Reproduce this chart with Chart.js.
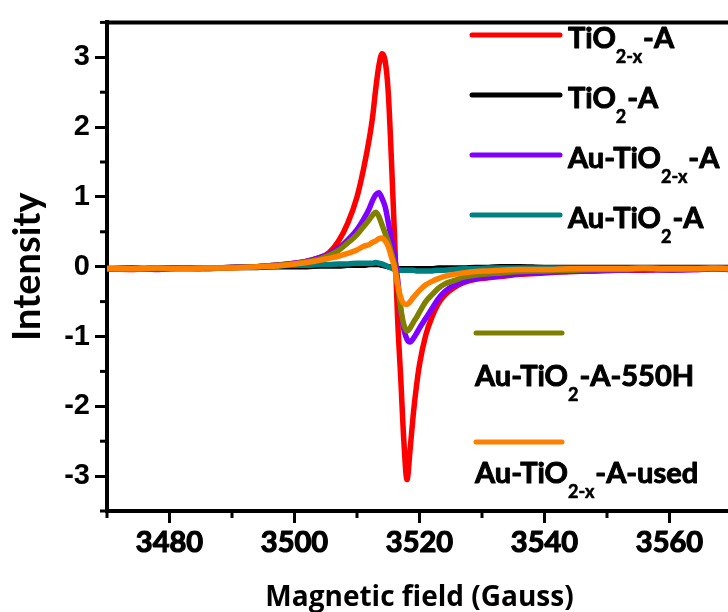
<!DOCTYPE html>
<html>
<head>
<meta charset="utf-8">
<script src="https://cdn.jsdelivr.net/npm/chart.js@4.4.1/dist/chart.umd.min.js"></script>
<style>
html,body{margin:0;padding:0;background:#fff;overflow:hidden;width:728px;height:612px;}
#wrap{position:relative;width:736px;height:612px;}
canvas{display:block;}
</style>
</head>
<body>
<div id="wrap"><canvas id="c" width="736" height="612"></canvas></div>
<script>
// ---- data ----
const field = [3470,3474,3478,3482,3486,3490,3494,3497,3500,3502,3504,3505.5,3507,3508.5,3510,3511,3512,3512.5,3513,3513.5,3514,3514.5,3515,3515.5,3516,3516.5,3517,3517.5,3518,3518.5,3519,3519.5,3520,3521,3522,3523,3524,3525.5,3527,3529,3531,3533,3536,3540,3544,3548,3552,3556,3560,3564,3567,3570];

const tio2xA = [-0.03,-0.04,-0.02,-0.03,-0.02,-0.01,0.00,0.02,0.05,0.08,0.13,0.20,0.36,0.62,1.00,1.38,1.85,2.15,2.55,2.88,3.05,2.95,2.50,1.55,0.45,-0.75,-1.60,-2.50,-3.05,-2.62,-2.12,-1.72,-1.40,-0.98,-0.72,-0.53,-0.41,-0.30,-0.23,-0.18,-0.16,-0.14,-0.11,-0.09,-0.07,-0.06,-0.05,-0.05,-0.04,-0.04,-0.03,-0.04];
const tio2A = [-0.03,-0.03,-0.02,-0.02,-0.02,-0.01,-0.01,0.00,0.00,0.00,0.01,0.01,0.01,0.02,0.02,0.02,0.03,0.03,0.03,0.03,0.02,0.01,0.00,-0.01,-0.02,-0.03,-0.03,-0.03,-0.03,-0.03,-0.03,-0.03,-0.03,-0.03,-0.03,-0.02,-0.02,-0.02,-0.02,-0.01,-0.01,0.00,0.00,-0.01,-0.01,-0.01,-0.01,-0.01,-0.01,-0.01,-0.01,-0.01];
const auTio2xA = [-0.03,-0.02,-0.04,-0.02,-0.03,-0.01,0.00,0.02,0.05,0.08,0.13,0.18,0.26,0.38,0.53,0.67,0.84,0.95,1.03,1.06,0.98,0.86,0.64,0.40,0.15,-0.18,-0.62,-0.90,-1.04,-1.08,-1.03,-0.96,-0.88,-0.74,-0.60,-0.46,-0.36,-0.27,-0.22,-0.17,-0.15,-0.13,-0.10,-0.08,-0.07,-0.06,-0.05,-0.04,-0.05,-0.04,-0.03,-0.04];
const auTio2A = [-0.03,-0.02,-0.03,-0.02,-0.02,-0.01,0.00,0.01,0.02,0.02,0.03,0.03,0.04,0.04,0.05,0.05,0.05,0.05,0.06,0.05,0.04,0.02,0.00,-0.02,-0.04,-0.05,-0.05,-0.05,-0.05,-0.05,-0.05,-0.06,-0.06,-0.06,-0.06,-0.05,-0.05,-0.04,-0.03,-0.03,-0.02,-0.02,-0.02,-0.02,-0.02,-0.02,-0.02,-0.02,-0.02,-0.02,-0.02,-0.02];
const auTio2A550H = [-0.02,-0.03,-0.03,-0.02,-0.02,-0.01,0.00,0.02,0.04,0.07,0.11,0.16,0.23,0.34,0.46,0.57,0.68,0.74,0.78,0.72,0.60,0.48,0.36,0.20,0.03,-0.25,-0.60,-0.83,-0.92,-0.88,-0.80,-0.73,-0.65,-0.50,-0.40,-0.31,-0.25,-0.20,-0.15,-0.12,-0.10,-0.09,-0.07,-0.06,-0.05,-0.04,-0.04,-0.03,-0.04,-0.03,-0.03,-0.03];
const auTio2xAUsed = [-0.03,-0.03,-0.02,-0.03,-0.02,-0.02,0.00,0.01,0.04,0.06,0.09,0.12,0.15,0.19,0.24,0.29,0.32,0.35,0.37,0.40,0.41,0.37,0.29,0.14,-0.01,-0.26,-0.44,-0.53,-0.54,-0.50,-0.44,-0.39,-0.34,-0.26,-0.21,-0.17,-0.14,-0.11,-0.09,-0.07,-0.06,-0.05,-0.04,-0.04,-0.03,-0.03,-0.03,-0.02,-0.03,-0.03,-0.02,-0.03];

const seriesNames = [
  ['TiO', '2-x', '-A'],
  ['TiO', '2', '-A'],
  ['Au-TiO', '2-x', '-A'],
  ['Au-TiO', '2', '-A'],
  ['Au-TiO', '2', '-A-550H'],
  ['Au-TiO', '2-x', '-A-used']
];
const xTickLabels = [3480, 3500, 3520, 3540, 3560];
const yTickLabels = [-3, -2, -1, 0, 1, 2, 3];

// ---- chart ----
const pts = vals => field.map((x, i) => ({x: x, y: vals[i]}));
const mk = (vals, color, name, order) => ({
  label: name.join(''), data: pts(vals), borderColor: color, backgroundColor: color,
  borderWidth: 5.5, pointRadius: 0, fill: false, cubicInterpolationMode: 'monotone', order: order
});

const majorX = v => xTickLabels.includes(v);
const majorY = v => yTickLabels.includes(Math.round(v * 1000) / 1000);

const decor = {
  id: 'decor',
  afterDraw(chart) {
    const {ctx, chartArea: a, scales: {x, y}} = chart;
    ctx.save();
    ctx.strokeStyle = '#000';
    ctx.lineCap = 'butt';
    // minor ticks
    ctx.lineWidth = 3;
    x.ticks.forEach(t => {
      if (!majorX(t.value)) {
        const px = x.getPixelForValue(t.value);
        ctx.beginPath(); ctx.moveTo(px, a.bottom); ctx.lineTo(px, a.bottom + 7); ctx.stroke();
      }
    });
    y.ticks.forEach(t => {
      if (!majorY(t.value)) {
        const py = y.getPixelForValue(t.value);
        ctx.beginPath(); ctx.moveTo(a.left, py); ctx.lineTo(a.left - 7, py); ctx.stroke();
      }
    });
    // top frame line
    ctx.lineWidth = 4;
    ctx.beginPath(); ctx.moveTo(a.left - 2, a.top); ctx.lineTo(a.right + 6, a.top); ctx.stroke();

    // legend
    const colors = ['#ff0000', '#000000', '#7f00ff', '#008080', '#808000', '#ff8000'];
    const rows = [
      {ly: 35, lx0: 472, lx1: 560, tx: 568, tb: 48},
      {ly: 95, lx0: 472, lx1: 560, tx: 568, tb: 108},
      {ly: 155, lx0: 472, lx1: 560, tx: 568, tb: 168},
      {ly: 215, lx0: 472, lx1: 560, tx: 568, tb: 228},
      {ly: 333, lx0: 476, lx1: 562, tx: 475, tb: 386},
      {ly: 442, lx0: 476, lx1: 562, tx: 475, tb: 483}
    ];
    ctx.lineCap = 'round';
    ctx.textBaseline = 'alphabetic';
    ctx.textAlign = 'left';
    ctx.fillStyle = '#000';
    rows.forEach((r, i) => {
      ctx.strokeStyle = colors[i];
      ctx.lineWidth = 5;
      ctx.beginPath(); ctx.moveTo(r.lx0, r.ly); ctx.lineTo(r.lx1, r.ly); ctx.stroke();
      let cx = r.tx;
      ctx.strokeStyle = '#000';
      ctx.lineJoin = 'round';
      seriesNames[i].forEach((p, k) => {
        const sub = k === 1;
        ctx.font = sub ? 'bold 18px Lato' : 'bold 29px Lato';
        ctx.lineWidth = sub ? 0.6 : 1;
        const yy = sub ? r.tb + 15 : r.tb;
        ctx.fillText(p, cx, yy);
        ctx.strokeText(p, cx, yy);
        cx += ctx.measureText(p).width + (sub ? 1 : 0);
      });
    });
    ctx.restore();
  }
};

new Chart(document.getElementById('c'), {
  type: 'line',
  data: {
    datasets: [
      mk(tio2xA, '#ff0000', seriesNames[0], 4),
      mk(tio2A, '#000000', seriesNames[1], 6),
      mk(auTio2xA, '#7f00ff', seriesNames[2], 3),
      mk(auTio2A, '#008080', seriesNames[3], 5),
      mk(auTio2A550H, '#808000', seriesNames[4], 2),
      mk(auTio2xAUsed, '#ff8000', seriesNames[5], 1)
    ]
  },
  options: {
    responsive: false,
    animation: false,
    devicePixelRatio: 1,
    layout: {padding: {left: 0, top: 13, right: 4, bottom: 0}},
    plugins: {legend: {display: false}, tooltip: {enabled: false}},
    scales: {
      x: {
        type: 'linear', min: 3470, max: 3570,
        afterFit: s => { s.height = 101; },
        ticks: {
          stepSize: 10, autoSkip: false, maxRotation: 0, padding: 2, color: '#000',
          textStrokeColor: '#000', textStrokeWidth: 1.2,
          font: {family: 'Lato', weight: 'bold', size: 29},
          callback: v => majorX(v) ? String(v) : ''
        },
        grid: {
          display: true, drawOnChartArea: false, drawTicks: true, tickLength: 12, tickWidth: 3,
          tickColor: c => (c.tick && majorX(c.tick.value)) ? '#000' : 'rgba(0,0,0,0)'
        },
        border: {display: true, color: '#000', width: 4},
        title: {
          display: true, text: 'Magnetic field (Gauss)', color: '#000',
          font: {family: 'Open Sans', weight: 'bold', size: 28, lineHeight: 1},
          padding: {top: 0, bottom: 0}
        }
      },
      y: {
        min: -3.5, max: 3.5,
        afterFit: s => { s.width = 107; },
        ticks: {
          stepSize: 0.5, autoSkip: false, padding: 5, color: '#000',
          font: {family: 'Liberation Sans', weight: 'bold', size: 29},
          callback: v => majorY(v) ? String(Math.round(v)) : ''
        },
        grid: {
          display: true, drawOnChartArea: false, drawTicks: true, tickLength: 12, tickWidth: 3,
          tickColor: c => (c.tick && majorY(c.tick.value)) ? '#000' : 'rgba(0,0,0,0)'
        },
        border: {display: true, color: '#000', width: 4},
        title: {
          display: true, text: 'Intensity', color: '#000',
          font: {family: 'Lato', weight: 'bold', size: 38, lineHeight: 1},
          padding: {top: 9, bottom: 0}
        }
      }
    }
  },
  plugins: [decor]
});
</script>
</body>
</html>
